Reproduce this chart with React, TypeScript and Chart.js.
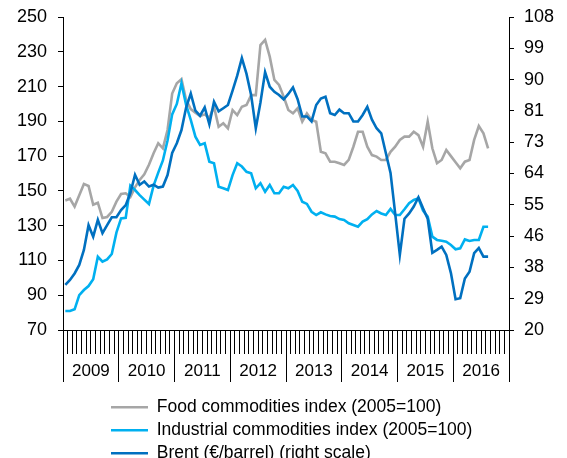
import React, { useEffect, useRef } from "react";
import { Chart, registerables } from "chart.js";

Chart.register(...registerables);

// ---- Data -----------------------------------------------------------------
const YEARS = ["2009", "2010", "2011", "2012", "2013", "2014", "2015", "2016"];
const MONTHS = ["Jan", "Feb", "Mar", "Apr", "May", "Jun", "Jul", "Aug", "Sep", "Oct", "Nov", "Dec"];
const MONTH_LABELS = YEARS.flatMap((y) => MONTHS.map((m) => `${m} ${y}`));

const SERIES_NAMES = [
  "Food commodities index (2005=100)",
  "Industrial commodities index (2005=100)",
  "Brent (€/barrel) (right scale)",
];

// Jan 2009 .. Aug 2016, monthly
const FOOD = [
  144.5, 145.5, 141.0, 147.5, 154.0, 152.8, 142.0, 143.2, 134.4, 135.0, 138.0, 143.8,
  148.2, 148.6, 146.5, 152.0, 156.3, 159.5, 165.0, 171.6, 177.4, 174.5, 185.0, 206.0,
  211.9, 214.2, 202.3, 197.0, 195.0, 193.0, 194.0, 192.0, 198.4, 186.9, 188.9, 186.0,
  196.5, 193.6, 198.4, 199.4, 205.1, 205.1, 233.9, 236.8, 227.2, 213.8, 210.9, 204.2,
  196.5, 194.6, 197.5, 189.8, 194.6, 190.8, 189.8, 172.5, 171.6, 166.8, 166.8, 165.9,
  164.9, 167.8, 175.4, 184.0, 184.0, 175.4, 170.6, 169.7, 167.8, 167.8, 172.5, 175.4,
  179.3, 181.2, 181.2, 184.0, 182.1, 175.4, 189.8, 174.5, 165.9, 167.8, 173.5, 170.0,
  166.5, 163.0, 166.8, 167.8, 179.3, 187.3, 183.1, 174.5,
];

const INDUSTRIAL = [
  80.9, 80.9, 81.9, 90.1, 93.0, 95.3, 99.2, 112.1, 109.3, 110.6, 113.7, 126.0,
  134.2, 134.5, 153.0, 150.5, 147.6, 145.0, 142.5, 153.0, 160.5, 167.5, 179.0, 194.0,
  200.0, 211.9, 199.4, 190.8, 181.2, 176.4, 177.4, 166.8, 165.9, 152.4, 151.5, 150.5,
  159.1, 165.9, 164.0, 161.0, 160.1, 151.5, 154.4, 149.5, 153.4, 148.6, 148.6, 152.4,
  151.5, 153.4, 150.0, 143.8, 142.5, 138.0, 136.1, 137.7, 136.5, 135.6, 135.2, 133.8,
  133.3, 131.4, 130.4, 129.4, 132.3, 133.7, 136.5, 138.4, 137.0, 136.1, 139.6, 136.1,
  136.1, 139.4, 142.9, 144.8, 145.7, 138.6, 135.2, 123.7, 121.8, 121.3, 120.8, 118.9,
  116.4, 117.0, 122.1, 121.2, 121.8, 121.8, 129.4, 129.4,
];

const BRENT = [
  32.6, 34.0, 35.8, 38.2, 42.4, 49.3, 46.1, 50.8, 47.1, 49.3, 51.5, 51.5,
  53.5, 54.9, 58.3, 63.4, 60.6, 61.5, 60.1, 60.6, 59.8, 60.1, 63.3, 69.5,
  72.2, 75.9, 82.2, 86.1, 81.3, 79.9, 82.2, 77.5, 83.8, 81.1, 82.0, 82.9,
  86.9, 91.1, 96.0, 91.6, 85.6, 76.4, 83.6, 92.1, 88.0, 86.6, 85.7, 84.5,
  86.0, 87.8, 84.5, 79.7, 79.7, 78.3, 82.9, 84.7, 85.2, 80.6, 80.1, 81.6,
  80.6, 80.6, 78.3, 78.3, 80.1, 82.4, 78.8, 76.4, 75.0, 69.4, 63.9, 52.6,
  41.0, 51.1, 52.6, 54.5, 57.1, 54.0, 51.1, 41.6, 42.4, 43.3, 41.0, 35.9,
  28.6, 28.9, 34.4, 36.3, 41.5, 42.9, 40.5, 40.5,
];

const LEFT_MIN = 70;
const LEFT_MAX = 250;
const LEFT_STEP = 20;
const RIGHT_MIN = 20;
const RIGHT_MAX = 107.5;
const RIGHT_STEP = 8.75;

// ---- Styles ----------------------------------------------------------------
const FONT = "'Liberation Sans', Arial, Helvetica, sans-serif";
const COLORS = ["#A6A6A6", "#00B0F0", "#0070C0"];
const LINE_W = 2.6;

const legendIndent = {
  id: "legendIndent",
  afterLayout(chart: any) {
    const lg = chart.legend;
    if (lg) lg.left = chart.chartArea.left + 42.5;
  },
};

const fixYPadding = (s: any) => {
  s.paddingTop = 9;
  s.paddingBottom = 9;
};

export default function App() {
  const ref = useRef<HTMLCanvasElement | null>(null);

  useEffect(() => {
    document.documentElement.style.overflow = "hidden";
    if (!ref.current) return;
    Chart.defaults.font.family = FONT;
    Chart.defaults.color = "#000";

    const series = [FOOD, INDUSTRIAL, BRENT];
    const axes = ["y", "y", "y1"];
    const orders = [2, 1, 0];

    const chart = new Chart(ref.current, {
      type: "line",
      data: {
        labels: MONTH_LABELS,
        datasets: series.map((d, i) => ({
          label: SERIES_NAMES[i],
          data: d,
          xAxisID: "x",
          yAxisID: axes[i],
          borderColor: COLORS[i],
          backgroundColor: COLORS[i],
          borderWidth: LINE_W,
          pointRadius: 0,
          tension: 0,
          fill: false,
          order: orders[i],
        })),
      },
      options: {
        responsive: false,
        animation: false,
        events: [],
        layout: { padding: 0 },
        plugins: {
          tooltip: { enabled: false },
          legend: {
            position: "bottom",
            align: "start",
            maxHeight: 65,
            labels: {
              boxWidth: 37,
              boxHeight: 0,
              padding: 5.5,
              color: "#000",
              font: { family: FONT, size: 17.5 },
              sort: (a: any, b: any) => a.datasetIndex - b.datasetIndex,
            },
          },
        },
        scales: {
          x: {
            type: "category",
            position: "bottom",
            offset: true,
            weight: 0,
            grid: {
              offset: true,
              drawOnChartArea: false,
              drawTicks: true,
              tickLength: 24,
              color: "#000",
              lineWidth: 1,
            },
            border: { display: true, color: "#000", width: 1 },
            ticks: { display: false, autoSkip: false },
            afterFit: (s: any) => {
              s.height = 24;
            },
          },
          x2: {
            type: "category",
            axis: "x",
            position: "bottom",
            labels: YEARS,
            offset: true,
            weight: 1,
            grid: {
              offset: true,
              drawOnChartArea: false,
              tickLength: 28,
              color: "#000",
              lineWidth: 1,
            },
            border: { display: false },
            ticks: {
              autoSkip: false,
              maxRotation: 0,
              padding: -21,
              color: "#000",
              font: { family: FONT, size: 17 },
            },
            afterFit: (s: any) => {
              s.height = 39;
            },
          },
          y: {
            type: "linear",
            position: "left",
            min: LEFT_MIN,
            max: LEFT_MAX,
            ticks: {
              stepSize: LEFT_STEP,
              padding: 11,
              color: "#000",
              font: { family: FONT, size: 18, lineHeight: 1 },
            },
            grid: { drawOnChartArea: false, tickLength: 5, color: "#000" },
            border: { display: true, color: "#000", width: 1 },
            afterFit: (s: any) => {
              s.width = 55;
              fixYPadding(s);
            },
          },
          y1: {
            type: "linear",
            position: "right",
            min: RIGHT_MIN,
            max: RIGHT_MAX,
            ticks: {
              stepSize: RIGHT_STEP,
              padding: 10,
              color: "#000",
              font: { family: FONT, size: 18, lineHeight: 1 },
              callback: (v: any) => String(Math.round(Number(v))),
            },
            grid: { drawOnChartArea: false, tickLength: 5, color: "#000" },
            border: { display: true, color: "#000", width: 1 },
            afterFit: (s: any) => {
              s.width = 50;
              fixYPadding(s);
            },
          },
        },
      } as any,
      plugins: [legendIndent],
    });

    return () => chart.destroy();
  }, []);

  return (
    <div style={{ width: 551, height: 450 }}>
      <canvas ref={ref} width={551} height={450} style={{ display: "block" }} />
    </div>
  );
}
